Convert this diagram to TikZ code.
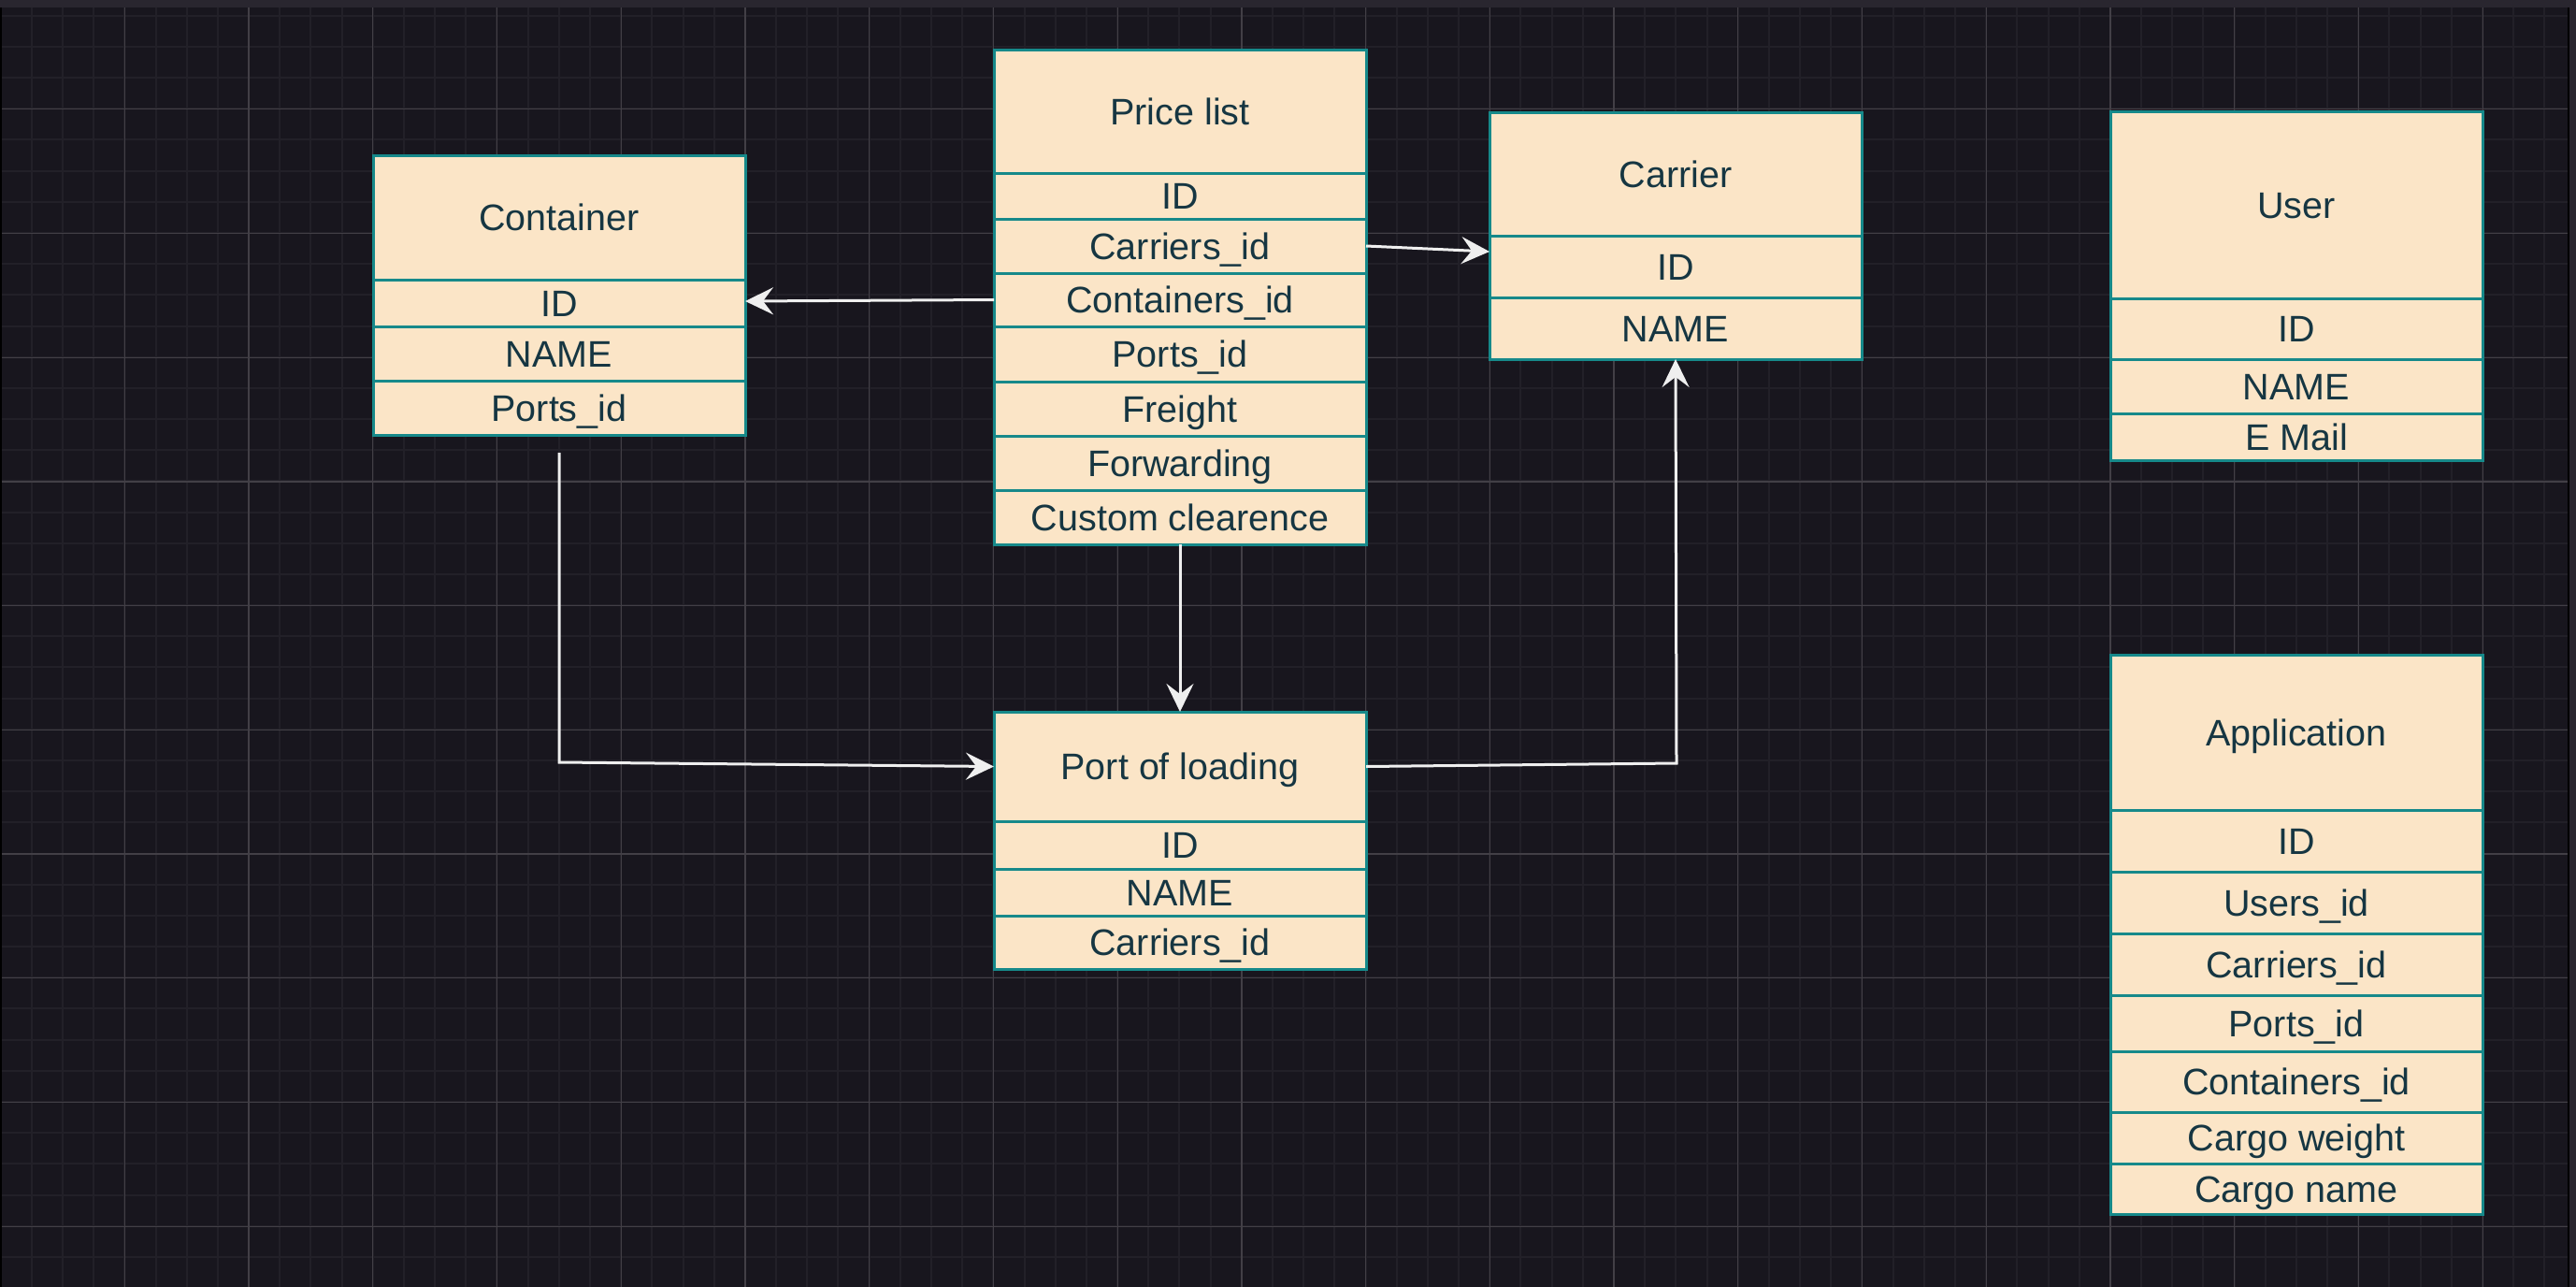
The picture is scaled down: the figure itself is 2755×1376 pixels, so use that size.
\documentclass[tikz,border=0pt]{standalone}
\usepackage{fontspec}
\setmainfont{Liberation Sans}
\usetikzlibrary{arrows.meta}
\definecolor{bgc}{HTML}{18161E}
\definecolor{minorc}{HTML}{222028}
\definecolor{majorc}{HTML}{423F46}
\definecolor{bandc}{HTML}{29262F}
\definecolor{cellc}{HTML}{FBE5C7}
\definecolor{tealc}{HTML}{16898A}
\definecolor{txtc}{HTML}{163642}
\definecolor{arrc}{HTML}{EFEFEF}
\tikzset{
  rowbox/.style={draw=tealc, fill=cellc, line width=3pt, minimum width=398pt,
    inner sep=0pt, outer sep=0pt, anchor=north west, text=txtc,
    font=\fontsize{39.5}{47}\selectfont, text height=28pt, text depth=0pt},
  conn/.style={draw=arrc, line width=3pt, -{Stealth[length=30pt,width=29pt,inset=11pt]}},
  minorline/.style={draw=minorc, line width=2pt},
  majorline/.style={draw=majorc, line width=1.3pt},
}
\newcommand{\tabrow}[5]{\node[rowbox, minimum height={#4-#3}] (#1) at (#2,#3) {#5};}
\begin{document}
\begin{tikzpicture}[x=1pt,y=-1pt]
\useasboundingbox (0,0) rectangle (2755,1376);
\fill[bgc] (0,0) rectangle (2755,1376);
% grid
\foreach \i in {0,...,82} \draw[minorline] ({0.6+33.18*\i},8) -- ({0.6+33.18*\i},1376);
\foreach \j in {0,...,40} \draw[minorline] (0,{16.7+33.18*\j}) -- (2755,{16.7+33.18*\j});
\foreach \i in {1,...,20} \draw[majorline] ({0.6+132.73*\i},8) -- ({0.6+132.73*\i},1376);
\foreach \j in {0,...,9} \draw[majorline] (0,{116.7+132.73*\j}) -- (2755,{116.7+132.73*\j});
% frame bands
\fill[bandc] (0,0) rectangle (2755,8);
\fill[bandc] (2747,8) rectangle (2755,1376);
\fill[black] (2746,8) rectangle (2747.5,1376);
\fill[black] (0,8) rectangle (1.5,1376);

% Container
\tabrow{cth}{399}{166}{299}{Container}
\tabrow{ctid}{399}{299}{349}{ID}
\tabrow{ctname}{399}{349}{407}{NAME}
\tabrow{ctports}{399}{407}{465}{Ports\_id}
% Price list
\tabrow{plh}{1063}{53}{185}{Price list}
\tabrow{plid}{1063}{185}{234}{ID}
\tabrow{plcarr}{1063}{234}{292}{Carriers\_id}
\tabrow{plcont}{1063}{292}{349}{Containers\_id}
\tabrow{plports}{1063}{349}{408}{Ports\_id}
\tabrow{plfreight}{1063}{408}{466}{Freight}
\tabrow{plfwd}{1063}{466}{524}{Forwarding}
\tabrow{plcust}{1063}{524}{582}{Custom clearence}
% Carrier
\tabrow{crh}{1593}{120}{252}{Carrier}
\tabrow{crid}{1593}{252}{318}{ID}
\tabrow{crname}{1593}{318}{384}{NAME}
% User
\tabrow{ush}{2257}{119}{319}{User}
\tabrow{usid}{2257}{319}{384}{ID}
\tabrow{usname}{2257}{384}{442}{NAME}
\tabrow{usmail}{2257}{442}{492}{E Mail}
% Port of loading
\tabrow{polh}{1063}{761}{878}{Port of loading}
\tabrow{polid}{1063}{878}{929}{ID}
\tabrow{polname}{1063}{929}{979}{NAME}
\tabrow{polcarr}{1063}{979}{1036}{Carriers\_id}
% Application
\tabrow{aph}{2257}{700}{866}{Application}
\tabrow{apid}{2257}{866}{932}{ID}
\tabrow{apusers}{2257}{932}{998}{Users\_id}
\tabrow{apcarr}{2257}{998}{1064}{Carriers\_id}
\tabrow{apports}{2257}{1064}{1124}{Ports\_id}
\tabrow{apcont}{2257}{1124}{1189}{Containers\_id}
\tabrow{apweight}{2257}{1189}{1244}{Cargo weight}
\tabrow{apname}{2257}{1244}{1298}{Cargo name}

% connectors
\coordinate (cstart) at ([yshift=-19pt]ctports.south);
\coordinate (cbend) at (598,815);
\coordinate (pbend) at (1793,816);
\draw[conn] (plcont.west) -- ([yshift=2pt]ctid.east);
\draw[conn] (plcarr.east) -- ([yshift=16pt]crid.west);
\draw[conn] (plcust.south) -- (polh.north);
\draw[conn] (cstart) -- (cbend) -- (polh.west);
\draw[conn] (polh.east) -- (pbend) -- (crname.south);
\end{tikzpicture}
\end{document}
